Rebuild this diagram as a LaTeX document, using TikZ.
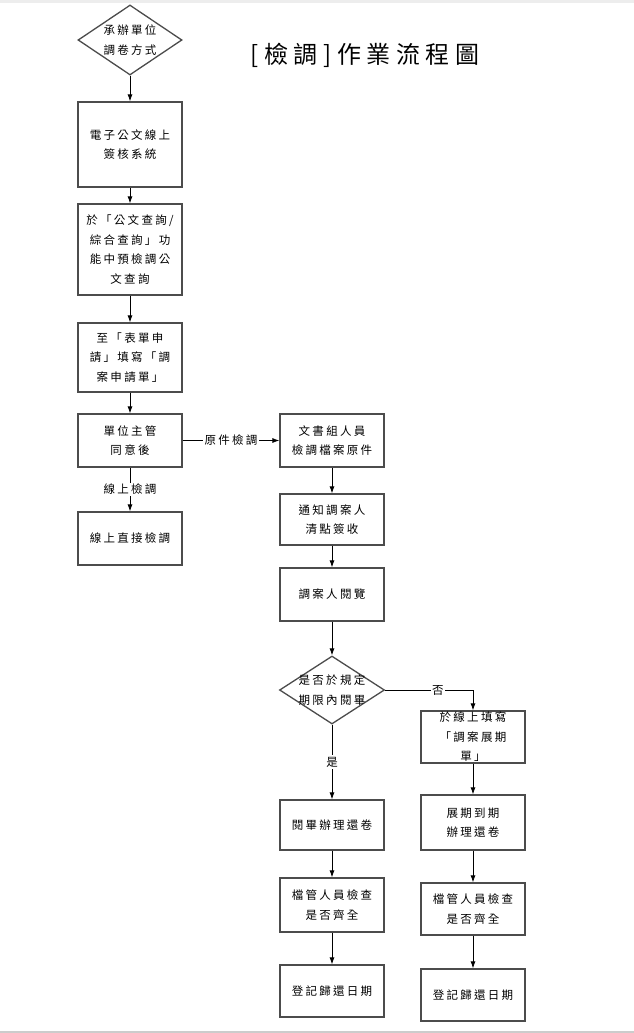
\documentclass[tikz,border=0pt]{standalone}
\usepackage{fontspec}
\usepackage{tikz}
\usetikzlibrary{shapes, arrows.meta}

\newfontfamily\cjk[LetterSpace=20]{Noto Sans CJK TC}
\newfontfamily\cjkhead[LetterSpace=23]{Noto Sans CJK TC}

\tikzset{
	stepbox/.style={draw=black!70, line width=1.3pt, rectangle, minimum width=104pt,
		align=center, inner sep=1pt, font=\cjk\fontsize{11.5}{19.5}\selectfont},
	choice/.style={draw=black!70, line width=1.3pt, diamond, inner sep=0pt},
	link/.style={->, >={Latex[length=7pt, width=5pt]}, line width=0.8pt},
	tag/.style={fill=white, inner sep=1.5pt, font=\cjk\fontsize{11.5}{14}\selectfont}
}

\begin{document}
\begin{tikzpicture}[x=1pt, y=-1pt]
	\def \colA {130}
	\def \colB {332}
	\def \colC {473}

	\useasboundingbox (0,0) rectangle (634,1033);
	\fill[white] (0,0) rectangle (634,1033);
	\fill[black!7] (0,0) rectangle (634,3);
	\fill[black!20] (0,1031) rectangle (634,1033);

	\node[font=\cjkhead\fontsize{24}{28}\selectfont] (title) at (365,55)
		{[檢調]作業流程圖};

	% left column
	\node[choice, minimum width=104pt, minimum height=70pt,
		label={[align=center, font=\cjk\fontsize{11.5}{19.5}\selectfont]center:{承辦單位\\調卷方式}}]
		(mode) at (\colA,40) {};
	\node[stepbox, minimum height=85pt] (online)  at (\colA,144.5)
		{電子公文線上\\簽核系統};
	\node[stepbox, minimum height=91pt] (query)   at (\colA,249.5)
		{於「公文查詢/\\綜合查詢」功\\能中預檢調公\\文查詢};
	\node[stepbox, minimum height=69pt] (apply)   at (\colA,357.5)
		{至「表單申\\請」填寫「調\\案申請單」};
	\node[stepbox, minimum height=53pt] (approve) at (\colA,440.5)
		{單位主管\\同意後};
	\node[stepbox, minimum height=53pt] (direct)  at (\colA,538.5)
		{線上直接檢調};

	% middle column
	\node[stepbox, minimum height=53pt] (fetch)   at (\colB,440.5)
		{文書組人員\\檢調檔案原件};
	\node[stepbox, minimum height=51pt] (notify)  at (\colB,519.5)
		{通知調案人\\清點簽收};
	\node[stepbox, minimum height=53pt] (read)    at (\colB,594.5)
		{調案人閱覽};
	\node[choice, minimum width=105pt, minimum height=68pt,
		label={[align=center, font=\cjk\fontsize{11.5}{19.5}\selectfont]center:{是否於規定\\期限內閱畢}}]
		(intime) at (\colB,690) {};
	\node[stepbox, minimum height=50pt] (returnA) at (\colB,825)
		{閱畢辦理還卷};
	\node[stepbox, minimum height=54pt] (checkA)  at (\colB,905)
		{檔管人員檢查\\是否齊全};
	\node[stepbox, minimum height=52pt] (dateA)   at (\colB,991)
		{登記歸還日期};

	% right column
	\node[stepbox, minimum height=52pt] (extend)  at (\colC,737)
		{於線上填寫\\「調案展期\\單」};
	\node[stepbox, minimum height=55pt] (returnB) at (\colC,822.5)
		{展期到期\\辦理還卷};
	\node[stepbox, minimum height=52pt] (checkB)  at (\colC,909)
		{檔管人員檢查\\是否齊全};
	\node[stepbox, minimum height=52pt] (dateB)   at (\colC,995)
		{登記歸還日期};

	\draw[link] (mode) -- (online);
	\draw[link] (online) -- (query);
	\draw[link] (query) -- (apply);
	\draw[link] (apply) -- (approve);
	\draw[link] (approve) -- node[tag] {線上檢調} (direct);
	\draw[link] (approve) -- node[tag] {原件檢調} (fetch);
	\draw[link] (fetch) -- (notify);
	\draw[link] (notify) -- (read);
	\draw[link] (read) -- (intime);
	\draw[link] (intime) -- node[tag] {是} (returnA);
	\draw[link] (intime.east) -| node[tag, pos=0.3] {否} (extend.north);
	\draw[link] (returnA) -- (checkA);
	\draw[link] (checkA) -- (dateA);
	\draw[link] (extend) -- (returnB);
	\draw[link] (returnB) -- (checkB);
	\draw[link] (checkB) -- (dateB);
\end{tikzpicture}
\end{document}
